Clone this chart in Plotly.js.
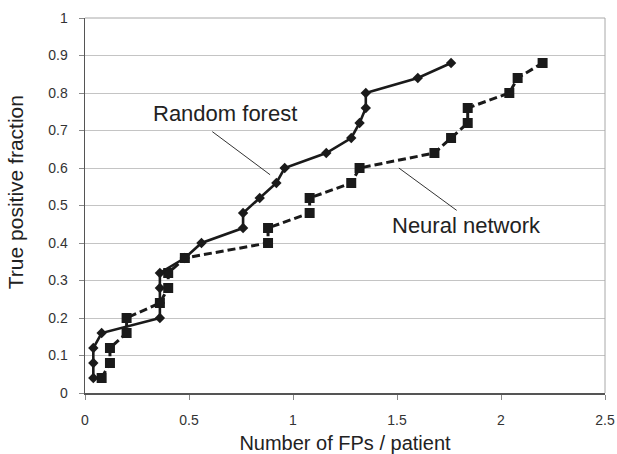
<!DOCTYPE html>
<html>
<head>
<meta charset="utf-8">
<script src="https://cdn.plot.ly/plotly-3.0.1.min.js"></script>
<style>html,body{margin:0;padding:0;background:#fff;}#chart{width:617px;height:454px;}</style>
</head>
<body>
<div id="chart"></div>
<script>
// Random forest (diamonds, solid)
const rfX = [0.04, 0.04, 0.04, 0.08, 0.36, 0.36, 0.36, 0.36, 0.48, 0.56, 0.76, 0.76, 0.84, 0.92, 0.96, 1.16, 1.28, 1.32, 1.35, 1.35, 1.60, 1.76];
const rfY = [0.04, 0.08, 0.12, 0.16, 0.20, 0.24, 0.28, 0.32, 0.36, 0.40, 0.44, 0.48, 0.52, 0.56, 0.60, 0.64, 0.68, 0.72, 0.76, 0.80, 0.84, 0.88];
// Neural network (squares, dashed)
const nnX = [0.08, 0.12, 0.12, 0.20, 0.20, 0.36, 0.40, 0.40, 0.48, 0.88, 0.88, 1.08, 1.08, 1.28, 1.32, 1.68, 1.76, 1.84, 1.84, 2.04, 2.08, 2.20];
const nnY = [0.04, 0.08, 0.12, 0.16, 0.20, 0.24, 0.28, 0.32, 0.36, 0.40, 0.44, 0.48, 0.52, 0.56, 0.60, 0.64, 0.68, 0.72, 0.76, 0.80, 0.84, 0.88];

const seriesNames = ["Random forest", "Neural network"];
const xTickVals = [0, 0.5, 1, 1.5, 2, 2.5];
const yTickVals = [0, 0.1, 0.2, 0.3, 0.4, 0.5, 0.6, 0.7, 0.8, 0.9, 1];
const xTitle = "Number of FPs / patient";
const yTitle = "True positive fraction";

const FONT = "Liberation Sans, Arial, sans-serif";

const traces = [
  {
    x: nnX, y: nnY, name: seriesNames[1], type: "scatter", mode: "lines+markers",
    line: {color: "#1a1a1a", width: 3, dash: "8px,4px"},
    marker: {symbol: "square", size: 10, color: "#1a1a1a"},
    cliponaxis: false
  },
  {
    x: rfX, y: rfY, name: seriesNames[0], type: "scatter", mode: "lines+markers",
    line: {color: "#1a1a1a", width: 2.6},
    marker: {symbol: "diamond", size: 8, color: "#1a1a1a"},
    cliponaxis: false
  }
];

const layout = {
  width: 617, height: 454,
  margin: {l: 85, r: 12, t: 18, b: 61},
  paper_bgcolor: "#fff", plot_bgcolor: "#fff",
  showlegend: false,
  font: {family: FONT, color: "#333"},
  xaxis: {
    range: [0, 2.5], tickvals: xTickVals, ticktext: xTickVals.map(String),
    showgrid: false, zeroline: false,
    showline: true, linecolor: "#555", linewidth: 1.5,
    ticks: "outside", ticklen: 5, tickcolor: "#888", tickwidth: 1,
    tickfont: {family: FONT, size: 14, color: "#333"},
    ticklabelstandoff: 9,
    title: {text: xTitle, font: {family: FONT, size: 20, color: "#222"}, standoff: 11}
  },
  yaxis: {
    range: [0, 1], tickvals: yTickVals, ticktext: yTickVals.map(String),
    showgrid: true, gridcolor: "#c4c4c4", gridwidth: 1, zeroline: false,
    showline: true, linecolor: "#555", linewidth: 1.5,
    ticks: "outside", ticklen: 5, tickcolor: "#888", tickwidth: 1,
    tickfont: {family: FONT, size: 14, color: "#333"},
    ticklabelstandoff: 8
  },
  shapes: [
    {type: "line", xref: "paper", yref: "paper", x0: 0, x1: 1, y0: 1, y1: 1, line: {color: "#a8a8a8", width: 1}},
    {type: "line", xref: "paper", yref: "paper", x0: 1, x1: 1, y0: 0, y1: 1, line: {color: "#a8a8a8", width: 1}},
    {type: "line", xref: "x", yref: "y", x0: 0.612, y0: 0.697, x1: 0.890, y1: 0.582, line: {color: "#333", width: 1}},
    {type: "line", xref: "x", yref: "y", x0: 1.509, y0: 0.600, x1: 1.787, y1: 0.487, line: {color: "#333", width: 1}}
  ],
  annotations: [
    {xref: "x", yref: "y", x: 0.671, y: 0.746, text: seriesNames[0], showarrow: false,
     font: {family: FONT, size: 22, color: "#222"}},
    {xref: "x", yref: "y", x: 1.832, y: 0.446, text: seriesNames[1], showarrow: false,
     font: {family: FONT, size: 22, color: "#222"}},
    {xref: "paper", yref: "paper", x: -0.133, y: 0.535, xanchor: "center", yanchor: "middle",
     text: yTitle, textangle: -90, showarrow: false,
     font: {family: FONT, size: 21, color: "#222"}}
  ]
};

Plotly.newPlot("chart", traces, layout, {staticPlot: true, displayModeBar: false});
</script>
</body>
</html>
